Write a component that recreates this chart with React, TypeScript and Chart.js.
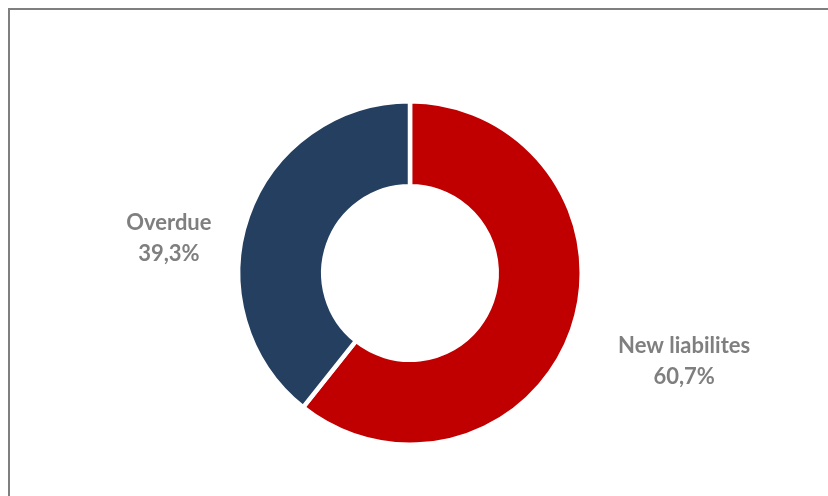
import React, { useEffect, useRef } from "react";
import { Chart, registerables } from "chart.js";

Chart.register(...registerables);

const categories = ["New liabilites", "Overdue"];
const values = [60.7, 39.3];
const valueLabels = ["60,7%", "39,3%"];
const colors = ["#C00000", "#243F60"];
// label anchor offsets, in units of the outer radius, relative to the doughnut centre
const labelOffsets = [
  [1.596, 0.52],
  [-1.404, -0.199],
];

const labelPlugin = {
  id: "sliceLabels",
  afterDatasetsDraw(chart: any) {
    const meta = chart.getDatasetMeta(0);
    const ctx = chart.ctx;
    ctx.save();
    ctx.fillStyle = "#7F7F7F";
    ctx.font = "bold 22px Lato, 'Open Sans', sans-serif";
    ctx.textAlign = "center";
    ctx.textBaseline = "middle";
    meta.data.forEach((arc: any, i: number) => {
      const r = arc.outerRadius;
      const x = arc.x + labelOffsets[i][0] * r;
      const y = arc.y + labelOffsets[i][1] * r;
      ctx.fillText(categories[i], x, y - 16);
      ctx.fillText(valueLabels[i], x, y + 15);
    });
    ctx.restore();
  },
};

export default function App() {
  const ref = useRef<HTMLCanvasElement>(null);
  useEffect(() => {
    const chart = new Chart(ref.current!, {
      type: "doughnut",
      data: {
        labels: categories,
        datasets: [
          {
            data: values,
            backgroundColor: colors,
            borderColor: "#FFFFFF",
            borderWidth: 4.5,
          },
        ],
      },
      options: {
        animation: false,
        responsive: false,
        cutout: "50.5%",
        layout: { padding: { top: 89, bottom: 49, left: 100, right: 118 } },
        plugins: {
          legend: { display: false },
          tooltip: { enabled: false },
        },
      },
      plugins: [labelPlugin],
    });
    return () => chart.destroy();
  }, []);
  return (
    <div
      style={{
        position: "absolute",
        left: 8,
        top: 8,
        width: 820,
        height: 488,
        boxSizing: "border-box",
        borderTop: "2px solid #7F7F7F",
        borderLeft: "2px solid #7F7F7F",
        background: "#FFFFFF",
      }}
    >
      <canvas ref={ref} width={818} height={486} style={{ display: "block" }} />
    </div>
  );
}
